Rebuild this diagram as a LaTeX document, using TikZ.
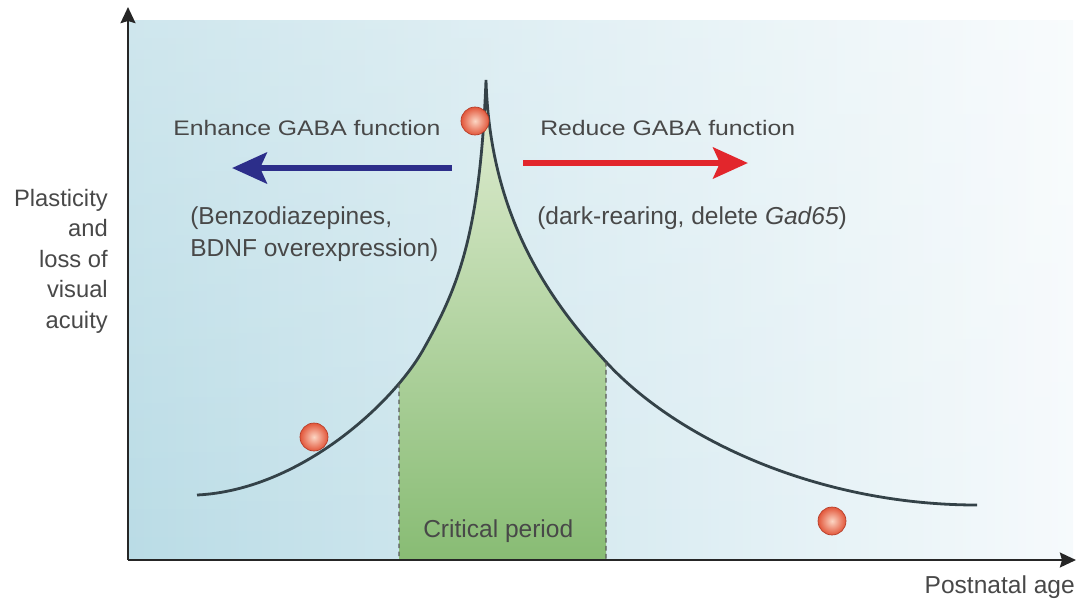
\documentclass[tikz,border=0pt]{standalone}
\usepackage{fontspec}
\setmainfont{Liberation Sans}
\newfontfamily\headfont{Liberation Sans}[FakeStretch=1.18]
\usetikzlibrary{arrows.meta,fadings,intersections}

\definecolor{bgL}{RGB}{186,220,230}
\definecolor{bgR}{RGB}{246,250,252}
\definecolor{txt}{RGB}{72,72,72}
\definecolor{crv}{RGB}{52,66,72}
\definecolor{grT}{RGB}{226,238,212}
\definecolor{grB}{RGB}{136,188,116}
\definecolor{arrB}{RGB}{44,46,138}
\definecolor{arrR}{RGB}{226,38,44}
\definecolor{ballIn}{RGB}{252,214,196}
\definecolor{ballOut}{RGB}{226,86,58}
\definecolor{ballRim}{RGB}{180,60,40}

\begin{document}
\begin{tikzpicture}[x=0.75pt,y=-0.75pt,
 axisline/.style={line width=2.2pt, draw=black!85, -{Stealth[length=12pt,width=11pt,inset=1.5pt]}},
 curveline/.style={line width=2.1pt, draw=crv},
 cpdash/.style={draw=black!65, line width=0.9pt, dash pattern=on 3.5pt off 2.5pt},
 bigarrow/.style={line width=5.2pt, -{Stealth[length=26pt,width=23pt,inset=5pt]}},
 ballnode/.style={circle, minimum size=21pt, inner sep=0pt, shading=radial, inner color=ballIn, outer color=ballOut, draw=ballRim, line width=0.5pt},
 bodytext/.style={text=txt, inner sep=0pt, font=\fontsize{18.4}{23.6}\selectfont},
 headtext/.style={text=txt, inner sep=0pt, font=\headfont\fontsize{15.75}{19}\selectfont},
 ylabel/.style={text=txt, inner sep=0pt, align=right, font=\fontsize{17.8}{22.9}\selectfont},
]
\useasboundingbox (0,0) rectangle (1077,601);

% background panel
\shade[left color=bgL, right color=bgR] (128,20) rectangle (1073,560);
\fill[white, opacity=0.3, path fading=south] (128,20) rectangle (1073,560);

% critical period fill
\begin{scope}
\clip (399,0) rectangle (606,560);
\shade[top color=grT, bottom color=grB]
  (197,495) .. controls (300,490) and (393,403) .. (423,350)
  .. controls (458,288) and (480,235) .. (486,80)
  .. controls (490,215) and (547,298) .. (607,363)
  .. controls (677,438.6) and (817,505) .. (977,505)
  -- (977,560) -- (197,560) -- cycle;
\end{scope}

% curve
\draw[curveline, name path=crvpath]
  (197,495) .. controls (300,490) and (393,403) .. (423,350)
  .. controls (458,288) and (480,235) .. (486,80)
  .. controls (490,215) and (547,298) .. (607,363)
  .. controls (677,438.6) and (817,505) .. (977,505);

% dashed limits of the critical period
\path[name path=vL] (399,250) -- (399,560);
\path[name path=vR] (606,250) -- (606,560);
\path[name intersections={of=crvpath and vL, by=cpL}];
\path[name intersections={of=crvpath and vR, by=cpR}];
\coordinate (cpLb) at (399,560);
\coordinate (cpRb) at (606,560);
\draw[cpdash] (cpL) -- (cpLb);
\draw[cpdash] (cpR) -- (cpRb);

% balls
\node[ballnode] (ballTop) at (475,121) {};
\node[ballnode] (ballLeft) at (314,437) {};
\node[ballnode] (ballRight) at (832,521) {};

% arrows
\coordinate (bS) at (452,168);
\coordinate (bE) at (232,168);
\coordinate (rS) at (523,163);
\coordinate (rE) at (748,163);
\draw[bigarrow, arrB] (bS) -- (bE);
\draw[bigarrow, arrR] (rS) -- (rE);

% texts
\node[headtext, anchor=base west] (enh) at (173,135) {Enhance GABA function};
\node[headtext, anchor=base west] (redu) at (540,135.5) {Reduce GABA function};
\node[bodytext, anchor=north west, align=left] (benz) at (190,206.6) {(Benzodiazepines,\\BDNF overexpression)};
\node[bodytext, anchor=base west] (dark) at (537,224) {(dark-rearing, delete \textit{Gad65})};
\node[bodytext, anchor=base west] (crit) at (423,537) {Critical period};
\node[bodytext, anchor=base east] (post) at (1075,593) {Postnatal age};
\node[ylabel, anchor=north east] (ylab) at (108,188.7) {Plasticity\\and\\loss of\\visual\\acuity};

% axes
\coordinate (O) at (128,560);
\coordinate (yT) at (128,7);
\coordinate (xT) at (1076,560);
\draw[axisline] (O) -- (yT);
\draw[axisline] (O) -- (xT);
\end{tikzpicture}
\end{document}
